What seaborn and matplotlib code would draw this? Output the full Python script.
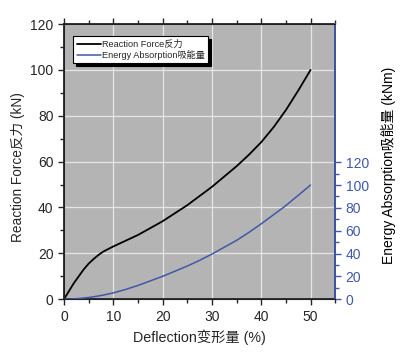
import numpy as np
import pandas as pd
import matplotlib.pyplot as plt
import seaborn as sns
from matplotlib.ticker import MultipleLocator, FixedLocator

# ------ data ------
deflection = [0, 1, 2, 3, 4, 5, 6, 7, 8, 10, 12.5, 15, 17.5, 20, 22.5, 25, 27.5, 30, 32.5, 35, 37.5, 40, 42.5, 45, 47.5, 50]
force = [0, 3.5, 7, 10, 13, 15.5, 17.5, 19.3, 20.8, 23, 25.5, 28, 31, 34, 37.5, 41, 45, 49, 53.5, 58, 63, 68.5, 75, 82.5, 91, 100]
energy = [0, 0.1, 0.3, 0.6, 1, 1.5, 2.1, 2.8, 3.6, 5.5, 8.5, 12, 16, 20, 24.5, 29, 34, 39.5, 45.5, 51.5, 58.5, 66, 74, 82, 91, 100]

df = pd.DataFrame({"Deflection": deflection, "Force": force, "Energy": energy})

sns.set_style("ticks", {"axes.facecolor": "#b4b4b4", "axes.grid": True, "grid.color": "#e6e6e6",
                        "axes.edgecolor": "#222222"})
plt.rcParams['font.family'] = ['Liberation Sans', 'Noto Sans CJK SC']

blue = "#4058a8"

fig = plt.figure(figsize=(4, 3.6), dpi=100)
ax = fig.add_axes([0.16, 0.169, 0.678, 0.764])

sns.lineplot(data=df, x="Deflection", y="Force", ax=ax, color="black", lw=1.3, label="Reaction Force反力")
ax.set_xlim(0, 55)
ax.set_ylim(0, 120)
ax.xaxis.set_major_locator(FixedLocator([0, 10, 20, 30, 40, 50]))
ax.xaxis.set_minor_locator(MultipleLocator(5))
ax.yaxis.set_major_locator(MultipleLocator(20))
ax.yaxis.set_minor_locator(MultipleLocator(10))
ax.grid(True, which="major", color="#e6e6e6", lw=0.9)
ax.tick_params(axis="both", which="both", direction="out", labelsize=10, width=1)
ax.tick_params(which="major", length=4)
ax.tick_params(which="minor", length=3)
ax.tick_params(axis="x", top=True, which="both")
ax.set_xlabel("Deflection变形量 (%)", fontsize=10.3)
ax.set_ylabel("Reaction Force反力 (kN)", fontsize=9.8)
ax.yaxis.set_label_coords(-0.145, 0.48)
for s in ax.spines.values():
    s.set_linewidth(1.3)

ax2 = ax.twinx()
sns.lineplot(data=df, x="Deflection", y="Energy", ax=ax2, color=blue, lw=1.1, label="Energy Absorption吸能量")
ax2.set_ylim(0, 241)
ax2.yaxis.set_major_locator(FixedLocator([0, 20, 40, 60, 80, 100, 120]))
ax2.yaxis.set_minor_locator(FixedLocator([10, 30, 50, 70, 90, 110]))
ax2.tick_params(axis="y", which="both", colors=blue, labelsize=10, width=1)
ax2.tick_params(which="major", length=4)
ax2.tick_params(which="minor", length=3)
ax2.spines["right"].set_color(blue)
ax2.spines["right"].set_linewidth(1.3)
ax2.grid(False)
ax2.set_ylabel("Energy Absorption吸能量 (kNm)", fontsize=10, color="black")
ax2.yaxis.set_label_coords(1.168, 0.487)

# combined legend with shadow box
h1, l1 = ax.get_legend_handles_labels()
h2, l2 = ax2.get_legend_handles_labels()
ax.get_legend().remove()
ax2.get_legend().remove()
leg = ax2.legend(h1 + h2, l1 + l2, loc="upper left", bbox_to_anchor=(0.035, 0.955), fontsize=6.6,
                 frameon=True, fancybox=False, shadow={"color": "black", "alpha": 1}, edgecolor="black",
                 handlelength=2.6, handletextpad=0.2, borderpad=0.35, labelspacing=0.15,
                 borderaxespad=0)
leg.get_frame().set_facecolor("white")
leg.get_frame().set_linewidth(0.8)

fig.savefig("out.png", dpi=100)
